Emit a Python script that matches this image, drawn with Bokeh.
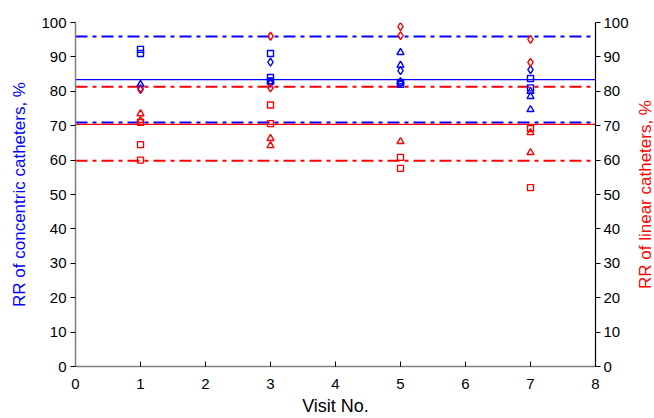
from bokeh.plotting import figure
from bokeh.models import LinearAxis, Range1d, FixedTicker, Title
from bokeh.layouts import row
from bokeh.embed import file_html
from bokeh.resources import INLINE

# Concentric catheters (blue)
conc_sq_x = [1, 1, 3, 3, 3, 5, 5, 7, 7]
conc_sq_y = [92.2, 91.0, 91.0, 84.0, 83.0, 82.6, 82.0, 83.7, 81.0]
conc_di_x = [1, 3, 3, 5, 5, 7]
conc_di_y = [80.8, 88.5, 82.3, 86.0, 82.3, 86.3]
conc_tr_x = [1, 3, 5, 5, 5, 7, 7, 7]
conc_tr_y = [82.0, 82.8, 91.3, 87.6, 82.8, 80.0, 78.5, 74.7]
conc_mean = 83.4
conc_limits = [95.9, 70.9]

# Linear catheters (red)
lin_sq_x = [1, 1, 1, 3, 3, 5, 5, 7, 7]
lin_sq_y = [71.0, 64.5, 60.0, 76.0, 70.6, 60.8, 57.6, 69.2, 52.0]
lin_di_x = [1, 3, 3, 5, 5, 7, 7]
lin_di_y = [80.5, 96.0, 81.0, 98.8, 96.2, 95.1, 88.4]
lin_tr_x = [1, 1, 3, 3, 5, 7, 7]
lin_tr_y = [73.5, 71.5, 66.3, 64.2, 65.4, 68.0, 62.2]
lin_mean = 70.4
lin_limits = [81.3, 59.8]

x_ticks = [0, 1, 2, 3, 4, 5, 6, 7, 8]
y_ticks = [0, 10, 20, 30, 40, 50, 60, 70, 80, 90, 100]

BLUE = "#0000FF"
RED = "#FF0000"
FONT = "Liberation Sans"

p = figure(width=634, height=418, output_backend="svg", toolbar_location=None,
           x_range=Range1d(0, 8), y_range=Range1d(0, 100),
           min_border_left=75, min_border_right=39, min_border_top=22, min_border_bottom=52)
p.outline_line_color = None
p.xgrid.visible = False
p.ygrid.visible = False
p.background_fill_color = "white"
p.border_fill_color = "white"

# reference lines
p.segment(x0=[0], x1=[8], y0=[conc_mean], y1=[conc_mean], line_color=BLUE, line_width=1.3)
p.segment(x0=[0, 0], x1=[8, 8], y0=conc_limits, y1=conc_limits, line_color=BLUE,
          line_width=2, line_dash="12 5 4 5")
p.segment(x0=[0], x1=[8], y0=[lin_mean], y1=[lin_mean], line_color=RED, line_width=1.3)
p.segment(x0=[0, 0], x1=[8, 8], y0=lin_limits, y1=lin_limits, line_color=RED,
          line_width=2, line_dash="12 5 4 5")

ms = 6
p.scatter(conc_sq_x, conc_sq_y, marker="square", size=ms, fill_color=None, line_color=BLUE, line_width=1.4)
p.scatter(conc_di_x, conc_di_y, marker="diamond", size=ms + 2, fill_color=None, line_color=BLUE, line_width=1.4)
p.scatter(conc_tr_x, conc_tr_y, marker="triangle", size=ms + 1, fill_color=None, line_color=BLUE, line_width=1.4)
p.scatter(lin_sq_x, lin_sq_y, marker="square", size=ms, fill_color=None, line_color=RED, line_width=1.4)
p.scatter(lin_di_x, lin_di_y, marker="diamond", size=ms + 2, fill_color=None, line_color=RED, line_width=1.4)
p.scatter(lin_tr_x, lin_tr_y, marker="triangle", size=ms + 1, fill_color=None, line_color=RED, line_width=1.4)

# x axis
xa = p.xaxis[0]
xa.ticker = FixedTicker(ticks=x_ticks)
xa.axis_label = "Visit No."
xa.axis_label_text_font = FONT
xa.axis_label_text_font_size = "18px"
xa.axis_label_text_font_style = "normal"
xa.axis_label_text_color = "#000000"
xa.axis_label_standoff = 4
xa.major_label_text_font = FONT
xa.major_label_text_font_size = "15px"
xa.major_label_text_color = "#000000"
xa.axis_line_color = "#808080"
xa.axis_line_width = 1.5
xa.major_tick_in = 5
xa.major_tick_out = 0
xa.major_tick_line_color = "#000000"
xa.minor_tick_line_color = None
xa.major_label_standoff = 12

# left axis
ya = p.yaxis[0]
ya.ticker = FixedTicker(ticks=y_ticks)
ya.axis_label = "RR of concentric catheters, %"
ya.axis_label_text_font = FONT
ya.axis_label_text_font_size = "17px"
ya.axis_label_text_font_style = "normal"
ya.axis_label_text_color = BLUE
ya.axis_label_standoff = 9
ya.major_label_text_font = FONT
ya.major_label_text_font_size = "15px"
ya.major_label_text_color = "#000000"
ya.axis_line_color = "#808080"
ya.axis_line_width = 1.5
ya.major_tick_in = 0
ya.major_tick_out = 5
ya.major_tick_line_color = "#000000"
ya.minor_tick_line_color = None
ya.major_label_standoff = 4

# right axis
p.extra_y_ranges = {"right": Range1d(0, 100)}
ra = LinearAxis(y_range_name="right", ticker=FixedTicker(ticks=y_ticks))
ra.major_label_text_font = FONT
ra.major_label_text_font_size = "15px"
ra.major_label_text_color = "#000000"
ra.axis_line_color = "#000000"
ra.axis_line_width = 1.2
ra.major_tick_in = 0
ra.major_tick_out = 5
ra.major_tick_line_color = "#000000"
ra.minor_tick_line_color = None
ra.major_label_standoff = 3
p.add_layout(ra, "right")

# narrow strip holding the right-hand axis title, reading bottom-to-top
f2 = figure(width=20, height=418, output_backend="svg", toolbar_location=None,
            x_axis_location=None, y_axis_location=None,
            min_border_left=0, min_border_right=0, min_border_top=22, min_border_bottom=52)
f2.outline_line_color = None
f2.xgrid.visible = False
f2.ygrid.visible = False
f2.background_fill_color = "white"
f2.border_fill_color = "white"
rt = Title(text="RR of linear catheters, %", align="center", text_color=RED,
           text_font=FONT, text_font_size="17px", text_font_style="normal",
           standoff=0, offset=0)
f2.add_layout(rt, "left")

layout = row(p, f2, spacing=0)
open("out.html", "w").write(file_html(layout, INLINE))
